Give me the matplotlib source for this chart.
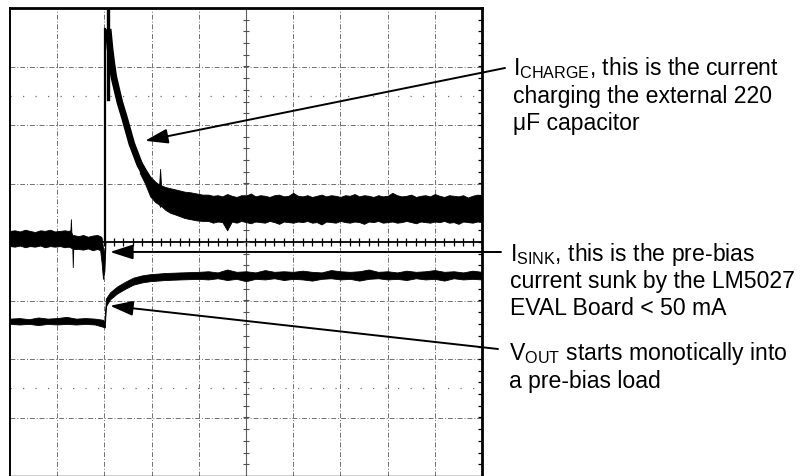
import numpy as np
import matplotlib
matplotlib.use("Agg")
import matplotlib.pyplot as plt

plt.rcParams['font.family'] = ['Liberation Sans', 'DejaVu Sans']
plt.rcParams['mathtext.fontset'] = 'custom'
plt.rcParams['mathtext.rm'] = 'Liberation Sans'
plt.rcParams['mathtext.it'] = 'Liberation Sans'

# scope screen in divisions: x 0..10, y -4..4
# I_CHARGE trace, before the switch on (noisy band)
ich_pre_t = [0.00, 0.10, 0.21, 0.32, 0.42, 0.53, 0.64, 0.74, 0.85, 0.95, 1.06, 1.16, 1.23,
             1.28, 1.29, 1.30, 1.32, 1.33, 1.34, 1.45, 1.55, 1.65, 1.75, 1.85, 1.91, 1.94,
             1.97, 2.00, 2.02]
ich_pre_hi = [0.19, 0.20, 0.18, 0.21, 0.19, 0.17, 0.20, 0.19, 0.21, 0.18, 0.19, 0.20, 0.19,
              0.20, 0.39, 0.17, 0.12, 0.11, 0.12, 0.10, 0.12, 0.09, 0.11, 0.12, 0.10, 0.08,
              -0.10, -0.20, 0.00]
ich_pre_lo = [-0.07, -0.08, -0.06, -0.09, -0.07, -0.08, -0.06, -0.09, -0.07, -0.08, -0.07, -0.09, -0.08,
              -0.09, -0.10, -0.10, -0.10, -0.43, -0.12, -0.12, -0.13, -0.11, -0.14, -0.12, -0.14, -0.35,
              -0.63, -0.50, -0.10]

# rising edge and overshoot spike
edge_t = [2.02, 2.02]
edge_v = [0.02, 3.64]
spike_t = [2.07, 2.07]
spike_v = [4.00, 2.44]

# exponential charging decay (centre of trace)
decay_t = [2.08, 2.12, 2.16, 2.20, 2.27, 2.33, 2.42, 2.50, 2.58, 2.67, 2.75, 2.86, 2.97]
decay_v = [3.64, 3.30, 3.04, 2.82, 2.58, 2.38, 2.14, 1.91, 1.68, 1.49, 1.32, 1.16, 1.01]

# I_CHARGE settling band
ich_post_t = [2.75, 2.86, 2.97, 3.08, 3.16, 3.18, 3.20, 3.29, 3.39, 3.50, 3.60, 3.70, 3.82, 3.95, 4.08,
              4.2, 4.3, 4.4, 4.5, 4.6, 4.7, 4.8, 4.9, 5.0, 5.1,
              5.2, 5.3, 5.4, 5.5, 5.6, 5.7, 5.8, 5.9, 6.0, 6.1,
              6.2, 6.3, 6.4, 6.5, 6.6, 6.7, 6.8, 6.9, 7.0, 7.1,
              7.2, 7.3, 7.4, 7.5, 7.6, 7.7, 7.8, 7.9, 8.0, 8.1,
              8.2, 8.3, 8.4, 8.5, 8.6, 8.7, 8.8, 8.9, 9.0, 9.1,
              9.2, 9.3, 9.4, 9.5, 9.6, 9.7, 9.8, 9.9, 10.0]
ich_post_hi = [1.42, 1.26, 1.12, 1.03, 0.98, 1.25, 0.97, 0.94, 0.92, 0.90, 0.88, 0.86, 0.85, 0.83, 0.81,
               0.81, 0.79, 0.80, 0.78, 0.82, 0.79, 0.77, 0.80, 0.79, 0.83,
               0.78, 0.80, 0.79, 0.77, 0.80, 0.81, 0.78, 0.79, 0.84, 0.79,
               0.78, 0.80, 0.77, 0.79, 0.81, 0.78, 0.80, 0.79, 0.77, 0.80,
               0.79, 0.82, 0.78, 0.80, 0.79, 0.77, 0.80, 0.78, 0.79, 0.84,
               0.80, 0.78, 0.79, 0.81, 0.77, 0.79, 0.80, 0.78, 0.82, 0.79,
               0.77, 0.80, 0.79, 0.78, 0.80, 0.76, 0.79, 0.81, 0.79]
ich_post_lo = [1.18, 1.00, 0.78, 0.68, 0.64, 0.60, 0.62, 0.55, 0.50, 0.47, 0.44, 0.41, 0.39, 0.37, 0.36,
               0.36, 0.33, 0.35, 0.34, 0.20, 0.35, 0.33, 0.36, 0.34, 0.32,
               0.35, 0.34, 0.33, 0.36, 0.34, 0.31, 0.35, 0.34, 0.33, 0.35,
               0.34, 0.36, 0.33, 0.34, 0.30, 0.35, 0.34, 0.33, 0.36, 0.34,
               0.33, 0.35, 0.34, 0.31, 0.35, 0.34, 0.36, 0.33, 0.34, 0.35,
               0.33, 0.34, 0.36, 0.34, 0.32, 0.35, 0.34, 0.33, 0.35, 0.34,
               0.36, 0.33, 0.34, 0.31, 0.35, 0.34, 0.33, 0.35, 0.34]

# V_OUT trace
vout_t = [0.0, 0.2, 0.4, 0.6, 0.8, 1.0, 1.2, 1.4, 1.6, 1.8, 1.97, 2.01,
          2.03, 2.12, 2.27, 2.44, 2.61, 2.80, 2.97, 3.29, 3.61, 4.0,
          4.2, 4.4, 4.6, 4.8, 5.0, 5.2, 5.4, 5.6, 5.8, 6.0,
          6.2, 6.4, 6.6, 6.8, 7.0, 7.2, 7.4, 7.6, 7.8, 8.0,
          8.2, 8.4, 8.6, 8.8, 9.0, 9.2, 9.4, 9.6, 9.8, 10.0]
vout_hi = [-1.31, -1.30, -1.32, -1.29, -1.31, -1.30, -1.28, -1.31, -1.30, -1.31, -1.33, -1.36,
           -0.97, -0.86, -0.76, -0.68, -0.61, -0.57, -0.55, -0.53, -0.52, -0.51,
           -0.50, -0.52, -0.47, -0.51, -0.50, -0.52, -0.48, -0.51, -0.50, -0.51,
           -0.49, -0.51, -0.52, -0.48, -0.50, -0.51, -0.50, -0.47, -0.51, -0.50,
           -0.52, -0.49, -0.51, -0.50, -0.48, -0.51, -0.50, -0.52, -0.49, -0.51]
vout_lo = [-1.40, -1.41, -1.40, -1.42, -1.40, -1.41, -1.40, -1.41, -1.40, -1.41, -1.45, -1.46,
           -1.10, -0.98, -0.88, -0.80, -0.73, -0.69, -0.67, -0.65, -0.64, -0.63,
           -0.64, -0.62, -0.65, -0.63, -0.67, -0.63, -0.64, -0.62, -0.65, -0.63,
           -0.64, -0.66, -0.63, -0.62, -0.64, -0.63, -0.66, -0.63, -0.62, -0.64,
           -0.63, -0.65, -0.62, -0.64, -0.63, -0.66, -0.62, -0.64, -0.63, -0.64]

fig = plt.figure(figsize=(8.01, 4.77), dpi=100)
ax = fig.add_axes([10 / 801, 0, 472 / 801, 468 / 477])
ax.set_xlim(0, 10)
ax.set_ylim(-4, 4)
ax.set_xticks([])
ax.set_yticks([])
ax.spines['top'].set_linewidth(2.0)
ax.spines['right'].set_linewidth(2.0)
ax.spines['left'].set_linewidth(1.4)
ax.spines['bottom'].set_linewidth(1.0)

# graticule
grid_kw = dict(color='#707070', lw=0.7, dashes=(5, 2, 1, 2), zorder=1)
for gx in [1, 2, 3, 4, 6, 7, 8, 9]:
    ax.axvline(gx, **grid_kw)
for gy in [-3, -2, -1, 1, 2, 3]:
    ax.axhline(gy, **grid_kw)
for gy in [-2.5, 2.5]:
    ax.axhline(gy, color='#707070', lw=0.9, dashes=(1, 9), zorder=1)
ax.axvline(5, color='#606060', lw=0.8, zorder=1)
ax.axhline(0, color='black', lw=1.3, zorder=1)
minor_x = np.arange(0.2, 10, 0.2)
minor_y = np.arange(-3.8, 4, 0.2)
ax.plot(minor_x, np.zeros_like(minor_x), ls='none', marker='|', ms=6, mew=0.9, color='black', zorder=1)
ax.plot(np.full_like(minor_y, 5), minor_y, ls='none', marker='_', ms=5, mew=0.8, color='#505050', zorder=1)
ax.plot(np.full_like(minor_y, 10), minor_y, ls='none', marker='_', ms=6, mew=0.9, color='black', zorder=1)

# traces
ax.fill_between(ich_pre_t, ich_pre_lo, ich_pre_hi, color='black', lw=0.6, zorder=3)
ax.plot(edge_t, edge_v, color='black', lw=1.6, zorder=3)
ax.plot(spike_t, spike_v, color='black', lw=2.4, zorder=3)
ax.plot(decay_t, decay_v, color='black', lw=4.8, solid_capstyle='butt', zorder=3)
ax.fill_between(ich_post_t, ich_post_lo, ich_post_hi, color='black', lw=0.6, zorder=3)
ax.fill_between(vout_t, vout_lo, vout_hi, color='black', lw=0.6, zorder=3)

# annotation arrows
arrow_kw = dict(arrowstyle='-|>,head_length=1.4,head_width=0.45', mutation_scale=10,
                lw=1.4, color='black', shrinkA=0, shrinkB=0)
ax.annotate('', xy=(2.86, 1.73), xycoords='data', xytext=(505, 408),
            textcoords='figure pixels', arrowprops=arrow_kw, annotation_clip=False)
ax.annotate('', xy=(2.12, -0.17), xycoords='data', xytext=(501, 224),
            textcoords='figure pixels', arrowprops=arrow_kw, annotation_clip=False)
ax.annotate('', xy=(2.12, -1.09), xycoords='data', xytext=(498, 127),
            textcoords='figure pixels', arrowprops=arrow_kw, annotation_clip=False)

# labels
fs = 16.6
labels = [
    (513, 75, "I$_{\\mathrm{CHARGE}}$, this is the current"),
    (513, 103, "charging the external 220"),
    (513, 130, "μF capacitor"),
    (510, 261, "I$_{\\mathrm{SINK}}$, this is the pre-bias"),
    (510, 288, "current sunk by the LM5027"),
    (510, 315, "EVAL Board < 50 mA"),
    (509, 360, "V$_{\\mathrm{OUT}}$ starts monotically into"),
    (509, 388, "a pre-bias load"),
]
for px, py, txt in labels:
    fig.text(px / 801, 1 - py / 477, txt, fontsize=fs, va='baseline', ha='left', color='black')

fig.savefig('out.png', dpi=100)
